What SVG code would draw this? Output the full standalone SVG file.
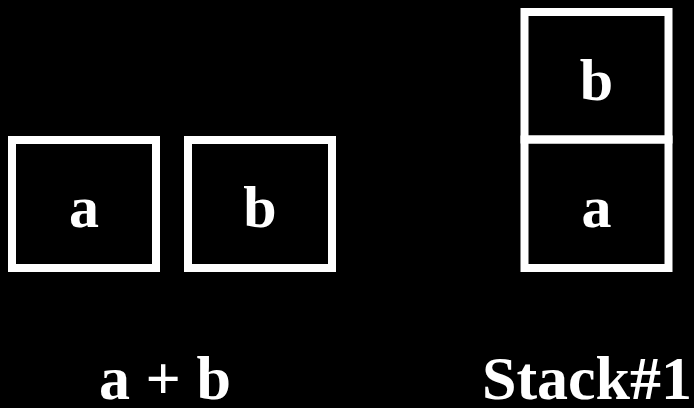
<svg xmlns="http://www.w3.org/2000/svg" width="694" height="408" viewBox="0 0 694 408">
<style>
.box{fill:none;stroke:#fff;stroke-width:8}
.t{fill:#fff;font-family:"Liberation Serif","Times New Roman",serif;font-weight:bold;font-size:60px;text-anchor:middle}
.lbl{font-size:62px}
</style>
<rect width="694" height="408" fill="#000"/>
<g id="node-a">
<rect class="box" x="12" y="140" width="144" height="128"/>
<text class="t" x="84" y="227">a</text>
</g>
<g id="node-b">
<rect class="box" x="188" y="140" width="144" height="128"/>
<text class="t" x="260" y="227">b</text>
</g>
<g id="stack-b">
<rect class="box" x="524.5" y="12" width="144" height="127.5"/>
<text class="t" x="596.5" y="100">b</text>
</g>
<g id="stack-a">
<rect class="box" x="524.5" y="139.5" width="144" height="128.5"/>
<text class="t" x="596.5" y="227">a</text>
</g>
<g id="connectors"></g>
<g id="labels">
<text class="t lbl" x="165" y="399">a + b</text>
<text class="t lbl" x="587" y="399">Stack#1</text>
</g>
</svg>
